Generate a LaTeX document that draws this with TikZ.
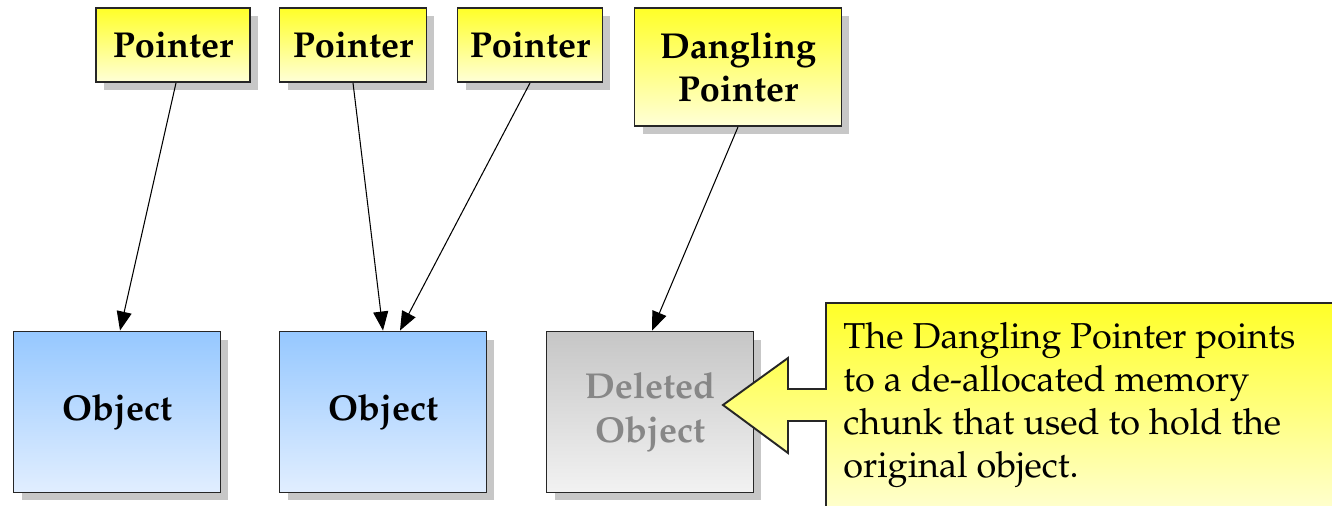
\documentclass[tikz,border=0pt]{standalone}
\usepackage[T1]{fontenc}
\usepackage{mathpazo}
\usepackage{tikz}
\usetikzlibrary{arrows.meta,positioning,calc,shadows}
\definecolor{ptrtop}{RGB}{255,255,40}
\definecolor{ptrbot}{RGB}{255,255,215}
\definecolor{objtop}{RGB}{150,200,255}
\definecolor{objbot}{RGB}{225,238,255}
\definecolor{deltop}{RGB}{198,198,198}
\definecolor{delbot}{RGB}{242,242,242}
\definecolor{deltext}{RGB}{135,135,135}
\definecolor{shade}{RGB}{185,185,185}
\tikzset{
    box/.style={rectangle, draw=black!85, line width=1.1pt, align=center,
        drop shadow={shadow xshift=0.16cm, shadow yshift=-0.16cm, fill=shade, opacity=0.8},
        font=\fontsize{20.5}{24.5}\selectfont\bfseries},
    ptr/.style={box, top color=ptrtop, bottom color=ptrbot},
    obj/.style={box, top color=objtop, bottom color=objbot, minimum width=4.14cm, minimum height=3.22cm},
    dead/.style={box, top color=deltop, bottom color=delbot, minimum width=4.14cm, minimum height=3.22cm, text=deltext},
    ref/.style={line width=0.6pt, -{Triangle[length=0.38cm, width=0.3cm]}},
}

\begin{document}
\begin{tikzpicture}[x=0.02cm, y=-0.02cm]
    \clip (0,0) rectangle (1332,506);
    \useasboundingbox (0,0) rectangle (1332,506);
    % pointers
    \node[ptr, minimum width=3.08cm, minimum height=1.48cm] (p1) at (173,45) {Pointer};
    \node[ptr, minimum width=2.94cm, minimum height=1.48cm] (p2) at (353,45) {Pointer};
    \node[ptr, minimum width=2.90cm, minimum height=1.48cm] (p3) at (530,45) {Pointer};
    \node[ptr, minimum width=4.14cm, minimum height=2.36cm] (dp) at (738,67) {Dangling\\Pointer};
    % objects
    \node[obj] (o1) at (117,412) {Object};
    \node[obj] (o2) at (383,412) {Object};
    \node[dead] (del) at (650,412) {Deleted\\[1pt]Object};
    \draw[ref] ([xshift=0.06cm]p1.south) -- ([xshift=0.06cm]o1.north);
    \draw[ref] (p2.south) -- (o2.north);
    \draw[ref] (p3.south) -- ([xshift=0.34cm]o2.north);
    \draw[ref] (dp.south) -- ([xshift=0.04cm]del.north);
    % callout
    \draw[line width=1.1pt, draw=black!85, top color=ptrtop, bottom color=ptrbot]
        (1345,303) -- (826,303) -- (826,389) -- (788,389) -- (788,358) -- (723,405)
        -- (788,453) -- (788,421) -- (826,421) -- (826,520) -- (1345,520) -- cycle;
    \node[anchor=north west, inner sep=0pt, align=left,
        font=\fontsize{20.5}{24.4}\selectfont] (note) at (843,322)
        {The Dangling Pointer points\\to a de-allocated memory\\chunk that used to hold the\\original object.};
\end{tikzpicture}
\end{document}
